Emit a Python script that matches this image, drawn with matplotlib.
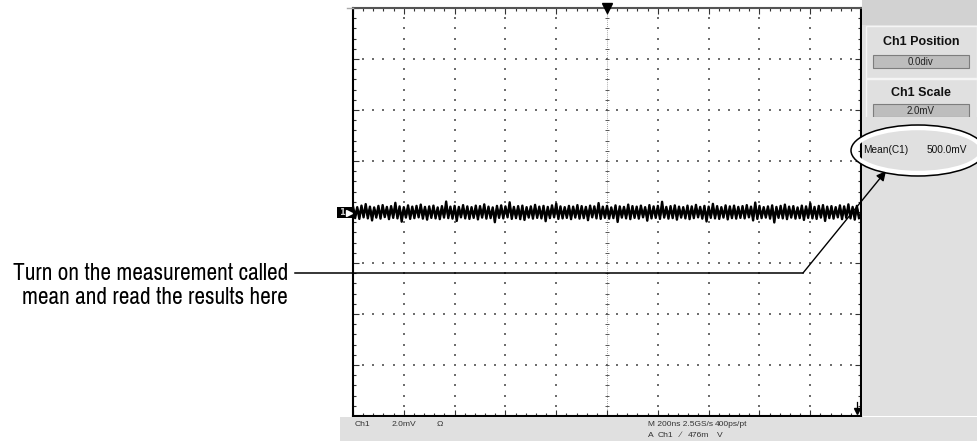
import numpy as np
import matplotlib
matplotlib.use("Agg")
import matplotlib.pyplot as plt
from matplotlib.patches import Rectangle, Ellipse

# ---------------- data ----------------
time_per_div_ns = 200
volts_per_div_mv = 2.0
n_div_x = 10
n_div_y = 8

# noise envelope samples (mV, relative to 500.0 mV mean)
upper_mv = [0.22,0.19,0.25,0.31,0.21,0.18,0.24,0.27,0.20,0.23,
            0.36,0.22,0.19,0.26,0.21,0.24,0.29,0.20,0.22,0.25,
            0.18,0.23,0.41,0.21,0.24,0.20,0.27,0.22,0.19,0.25,
            0.23,0.30,0.21,0.18,0.24,0.26,0.22,0.38,0.20,0.23,
            0.25,0.19,0.22,0.28,0.21,0.24,0.20,0.26,0.33,0.22,
            0.19,0.24,0.21,0.27,0.23,0.20,0.25,0.22,0.35,0.21,
            0.24,0.18,0.26,0.22,0.20,0.29,0.23,0.21,0.25,0.19,
            0.27,0.22,0.24,0.40,0.20,0.23,0.26,0.21,0.19,0.25,
            0.22,0.28,0.20,0.24,0.21,0.32,0.23,0.19,0.26,0.22,
            0.25,0.20,0.23,0.27,0.21,0.37,0.24,0.19,0.22,0.26,
            0.20,0.24,0.29,0.21,0.23,0.18,0.25,0.22,0.34,0.20,
            0.24,0.27,0.21,0.23,0.19,0.26,0.22,0.30,0.20,0.24]
lower_mv = [-0.24,-0.27,-0.21,-0.25,-0.33,-0.22,-0.26,-0.20,-0.28,-0.23,
            -0.25,-0.38,-0.22,-0.27,-0.24,-0.21,-0.26,-0.30,-0.23,-0.25,
            -0.28,-0.22,-0.24,-0.26,-0.35,-0.21,-0.25,-0.27,-0.23,-0.29,
            -0.22,-0.26,-0.24,-0.40,-0.23,-0.25,-0.21,-0.27,-0.24,-0.28,
            -0.31,-0.22,-0.26,-0.23,-0.25,-0.36,-0.24,-0.21,-0.27,-0.25,
            -0.23,-0.28,-0.22,-0.26,-0.24,-0.32,-0.21,-0.25,-0.27,-0.23,
            -0.26,-0.24,-0.39,-0.22,-0.25,-0.28,-0.23,-0.26,-0.21,-0.34,
            -0.25,-0.23,-0.27,-0.22,-0.26,-0.24,-0.30,-0.22,-0.25,-0.28,
            -0.24,-0.21,-0.26,-0.37,-0.23,-0.25,-0.27,-0.22,-0.29,-0.24,
            -0.26,-0.23,-0.25,-0.21,-0.33,-0.27,-0.24,-0.22,-0.26,-0.41,
            -0.23,-0.25,-0.28,-0.22,-0.26,-0.24,-0.31,-0.23,-0.25,-0.27,
            -0.22,-0.35,-0.24,-0.26,-0.21,-0.28,-0.23,-0.25,-0.30,-0.24]

panel_titles = ["Ch1 Position", "Ch1 Scale"]
panel_values = ["0.0div", "2.0mV"]
meas_label = "Mean(C1)"
meas_value = "500.0mV"
status_line1 = ["Ch1", "2.0mV", "\u03a9"]
status_right1 = ["M 200ns 2.5GS/s", "400ps/pt"]
status_right2 = ["A", "Ch1", "\u2215", "476m", "V"]
callout = ["Turn on the measurement called", "mean and read the results here"]

# ---------------- figure ----------------
W, H = 977, 441
fig = plt.figure(figsize=(W / 100, H / 100), dpi=100)
fig.patch.set_facecolor("white")

NARROW = ["Archivo Narrow", "Roboto Condensed", "Barlow Condensed",
          "Liberation Sans Narrow", "DejaVu Sans"]
SANS = ["Liberation Sans", "DejaVu Sans"]

px0, py0, px1, py1 = 353, 8, 861, 416
ax = fig.add_axes([px0 / W, 1 - py1 / H, (px1 - px0) / W, (py1 - py0) / H])
xhalf = time_per_div_ns * n_div_x / 2
yhalf = volts_per_div_mv * n_div_y / 2
ax.set_xlim(-xhalf, xhalf)
ax.set_ylim(-yhalf, yhalf)
ax.set_facecolor("white")

# ticks on border
ax.set_xticks(np.arange(-xhalf, xhalf + 1, time_per_div_ns))
ax.set_xticks(np.arange(-xhalf, xhalf + 1, time_per_div_ns / 5), minor=True)
ax.set_yticks(np.arange(-yhalf, yhalf + 0.01, volts_per_div_mv))
ax.set_yticks(np.arange(-yhalf, yhalf + 0.01, volts_per_div_mv / 5), minor=True)
ax.tick_params(which="both", direction="in", top=True, right=True,
               labelbottom=False, labelleft=False, color="#333333", width=0.8)
ax.tick_params(which="major", length=4)
ax.tick_params(which="minor", length=2.5)
for s in ["left", "right", "bottom"]:
    ax.spines[s].set_color("black")
    ax.spines[s].set_linewidth(1.5)
ax.spines["top"].set_color("#555555")
ax.spines["top"].set_linewidth(1.5)

# dotted graticule
gx = np.arange(-xhalf + time_per_div_ns, xhalf, time_per_div_ns)
gy = np.arange(-yhalf + volts_per_div_mv, yhalf, volts_per_div_mv)
fine_y = np.arange(-yhalf, yhalf + 0.01, volts_per_div_mv / 5)
fine_x = np.arange(-xhalf, xhalf + 1, time_per_div_ns / 5)
for xv in gx:
    if abs(xv) < 1e-9:
        continue
    ax.scatter(np.full_like(fine_y, xv), fine_y, s=1.4, marker="s",
               color="#6e6e6e", linewidths=0, zorder=1)
for yv in gy:
    if abs(yv) < 1e-9:
        continue
    ax.scatter(fine_x, np.full_like(fine_x, yv), s=1.4, marker="s",
               color="#6e6e6e", linewidths=0, zorder=1)

# center cross with ticks
ax.axvline(0, color="#8a8a8a", lw=0.6, ls=(0, (1, 1.5)), zorder=1)
ax.axhline(0, color="#8a8a8a", lw=0.6, ls=(0, (1, 1.5)), zorder=1)
ax.scatter(np.zeros_like(fine_y), fine_y, marker="_", s=10, color="#555555",
           linewidths=0.7, zorder=1)
ax.scatter(fine_x, np.zeros_like(fine_x), marker="|", s=10, color="#555555",
           linewidths=0.7, zorder=1)

# trace
n = len(upper_mv)
x_t = np.linspace(-xhalf, xhalf - 8, 2 * n)
y_t = np.empty(2 * n)
y_t[0::2] = upper_mv
y_t[1::2] = lower_mv
ax.plot(x_t, y_t, color="black", lw=1.7, zorder=3)
ax.plot(x_t, y_t * 0.55, color="black", lw=1.7, zorder=3)

# trigger marker on top
ax.plot([0], [yhalf], marker="v", markersize=7, color="black",
        clip_on=False, zorder=5)

# ---------------- overlay in pixel coordinates ----------------
ov = fig.add_axes([0, 0, 1, 1], zorder=10)
ov.set_xlim(0, W)
ov.set_ylim(H, 0)
ov.axis("off")
ov.patch.set_alpha(0)

# right panel
ov.add_patch(Rectangle((862, 0), W - 862, py1, facecolor="#e0e0e0", edgecolor="none"))
ov.add_patch(Rectangle((862, 0), W - 862, 25, facecolor="#d2d2d2", edgecolor="none"))
ov.add_patch(Rectangle((866, 26), W - 866, 52, facecolor="#e0e0e0",
                       edgecolor="#f5f5f5", lw=1))
ov.add_patch(Rectangle((866, 79), W - 866, 60, facecolor="#e0e0e0",
                       edgecolor="#f5f5f5", lw=1))
title_y = [42, 93]
btn_y = [55, 104]
for t, v, ty, by in zip(panel_titles, panel_values, title_y, btn_y):
    ov.text(921, ty, t, ha="center", va="center", fontsize=9,
            fontweight="bold", family=SANS, color="#111111")
    ov.add_patch(Rectangle((873, by), 96, 13, facecolor="#bdbdbd",
                           edgecolor="#7d7d7d", lw=0.8))
    ov.text(921, by + 7, v, ha="center", va="center", fontsize=7,
            family=SANS, color="#222222")
# readout area cover
ov.add_patch(Rectangle((862, 116.5), W - 862, 70, facecolor="#e0e0e0",
                       edgecolor="none", zorder=2))
ov.text(863, 150, meas_label, ha="left", va="center", fontsize=7.3,
        family=SANS, color="#111111", zorder=3)
ov.text(927, 150, meas_value, ha="left", va="center", fontsize=7.3,
        family=SANS, color="#111111", zorder=3)
ov.add_patch(Ellipse((918, 150.5), 128, 45, facecolor="none",
                     edgecolor="white", lw=3.2, zorder=4))
ov.add_patch(Ellipse((918, 150.5), 134, 51, facecolor="none",
                     edgecolor="black", lw=1.1, zorder=5))

# bottom status bar
ov.add_patch(Rectangle((340, py1 + 1), W - 340, H - py1, facecolor="#e0e0e0",
                       edgecolor="none"))
for t, xx in zip(status_line1, [355, 392, 437]):
    ov.text(xx, 424.5, t, ha="left", va="center", fontsize=6.1,
            family=SANS, color="#333333")
for t, xx in zip(status_right1, [648, 715]):
    ov.text(xx, 424.5, t, ha="left", va="center", fontsize=6.0,
            family=SANS, color="#333333")
for t, xx in zip(status_right2, [648, 658, 680, 688, 717]):
    ov.text(xx, 435.5, t, ha="left", va="center", fontsize=6.1,
            family=SANS, color="#333333")

# channel marker
ov.add_patch(Rectangle((337, 207), 16, 11, facecolor="black", edgecolor="none"))
ov.text(341.5, 212.5, "1", ha="center", va="center", fontsize=6,
        fontweight="bold", color="#cccccc")
ov.plot([348.5], [212.5], marker=">", markersize=4, color="white")

# horizontal position marker bottom-right
ov.plot([857, 857], [402, 411], color="black", lw=0.9)
ov.plot([857], [410.5], marker="v", markersize=5, color="black")

# top-left stub
ov.plot([347, 353], [8, 8], color="#aaaaaa", lw=1)

# callout
ov.plot([295, 803], [273, 273], color="black", lw=1.1)
ov.annotate("", xy=(886, 171), xytext=(803, 273),
            arrowprops=dict(arrowstyle="-|>", color="black", lw=1.0,
                            mutation_scale=14, shrinkA=0, shrinkB=0))
ov.text(288, 273, callout[0], ha="right", va="center", fontsize=16.8,
        family=NARROW, color="black")
ov.text(288, 298, callout[1], ha="right", va="center", fontsize=16.8,
        family=NARROW, color="black")

fig.savefig("out.png", dpi=100)
